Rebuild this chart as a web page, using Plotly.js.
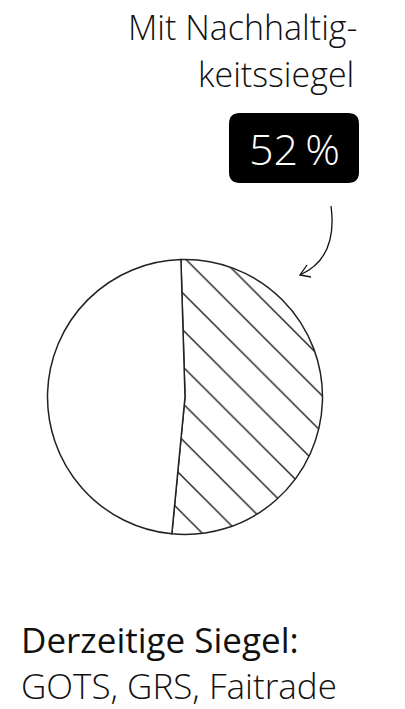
<!DOCTYPE html>
<html>
<head>
<meta charset="utf-8">
<script src="https://cdn.plot.ly/plotly-3.0.1.min.js"></script>
<style>html,body{margin:0;padding:0;background:#fff;}#chart{width:405px;height:709px;}</style>
</head>
<body>
<div id="chart"></div>
<script>
// Data
var labels = ["Mit Nachhaltigkeitssiegel", "Ohne Nachhaltigkeitssiegel"];
var values = [52, 48];
var titleLines = ["Mit Nachhaltig-", "keitssiegel"];
var footerLines = ["Derzeitige Siegel:", "GOTS, GRS, Faitrade"];

var W = 405, H = 709;
function px(x){ return x / W; }
function py(y){ return 1 - y / H; }

var cx = 185, cy = 397, r = 137.5;

var trace = {
  type: "pie",
  labels: labels,
  values: values,
  sort: false,
  direction: "clockwise",
  rotation: -1.7,
  textinfo: "none",
  hoverinfo: "none",
  showlegend: false,
  domain: { x: [px(cx - r), px(cx + r)], y: [py(cy + r), py(cy - r)] },
  marker: {
    colors: ["#ffffff", "#ffffff"],
    line: { color: "#222222", width: 1.5 },
    pattern: {
      shape: ["\\", ""],
      fgcolor: "#111111",
      bgcolor: "#ffffff",
      size: 26,
      solidity: 0.05
    }
  }
};

var pct = values[0] + "\u2009%";

function rrect(x0, y0, x1, y1, rad){
  return "M" + px(x0 + rad) + "," + py(y0) +
    " L" + px(x1 - rad) + "," + py(y0) +
    " Q" + px(x1) + "," + py(y0) + " " + px(x1) + "," + py(y0 + rad) +
    " L" + px(x1) + "," + py(y1 - rad) +
    " Q" + px(x1) + "," + py(y1) + " " + px(x1 - rad) + "," + py(y1) +
    " L" + px(x0 + rad) + "," + py(y1) +
    " Q" + px(x0) + "," + py(y1) + " " + px(x0) + "," + py(y1 - rad) +
    " L" + px(x0) + "," + py(y0 + rad) +
    " Q" + px(x0) + "," + py(y0) + " " + px(x0 + rad) + "," + py(y0) + " Z";
}

var arrowPath = "M" + px(331) + "," + py(206) +
  " Q" + px(338) + "," + py(258) + " " + px(300) + "," + py(275);
var arrowHead = "M" + px(307) + "," + py(265) + " L" + px(300) + "," + py(275) +
  " L" + px(311) + "," + py(277);

var font = "'Open Sans', Lato, sans-serif";

var layout = {
  width: W, height: H,
  margin: { l: 0, r: 0, t: 0, b: 0 },
  paper_bgcolor: "#ffffff",
  plot_bgcolor: "#ffffff",
  showlegend: false,
  shapes: [
    { type: "path", xref: "paper", yref: "paper", path: rrect(229, 113, 359, 183, 11),
      fillcolor: "#000000", line: { width: 0 } },
    { type: "path", xref: "paper", yref: "paper", path: arrowPath,
      line: { color: "#111111", width: 1.3 } },
    { type: "path", xref: "paper", yref: "paper", path: arrowHead,
      line: { color: "#111111", width: 1.3 } }
  ],
  annotations: [
    { xref: "paper", yref: "paper", x: px(358), y: py(26.5), xanchor: "right", yanchor: "middle",
      text: titleLines[0], showarrow: false, borderpad: 0,
      font: { family: font, size: 34, color: "#111111", weight: 300 } },
    { xref: "paper", yref: "paper", x: px(355), y: py(74.5), xanchor: "right", yanchor: "middle",
      text: titleLines[1], showarrow: false, borderpad: 0,
      font: { family: font, size: 34, color: "#111111", weight: 300 } },
    { xref: "paper", yref: "paper", x: px(294), y: py(148), xanchor: "center", yanchor: "middle",
      text: pct, showarrow: false,
      font: { family: font, size: 43, color: "#ffffff", weight: 300 } },
    { xref: "paper", yref: "paper", x: px(20), y: py(639.5), xanchor: "left", yanchor: "middle",
      text: footerLines[0], showarrow: false, borderpad: 0,
      font: { family: font, size: 35, color: "#111111", weight: 500 } },
    { xref: "paper", yref: "paper", x: px(20), y: py(685.5), xanchor: "left", yanchor: "middle",
      text: footerLines[1], showarrow: false, borderpad: 0,
      font: { family: font, size: 35, color: "#111111", weight: 300 } }
  ]
};

Plotly.newPlot("chart", [trace], layout, { staticPlot: true, displayModeBar: false });
</script>
</body>
</html>
